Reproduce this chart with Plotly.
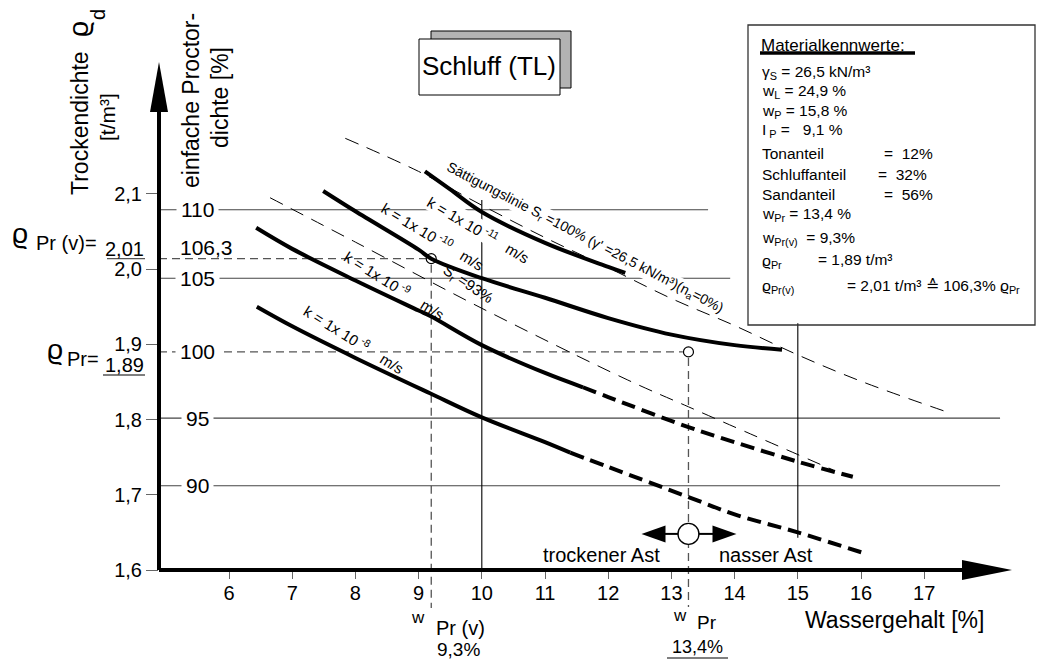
import plotly.graph_objects as go

# ---------------- data ----------------
x_tick_vals = [6, 7, 8, 9, 10, 11, 12, 13, 14, 15, 16, 17]
y_tick_vals = [1.6, 1.7, 1.8, 1.9, 2.0, 2.1]
y_tick_text = ["1,6", "1,7", "1,8", "1,9", "2,0", "2,1"]

proctor_text = ["110", "105", "100", "95", "90"]
proctor_rho = [2.079, 1.988, 1.890, 1.802, 1.712]

w_pr = 13.27        # drawn position of w_Pr (13,4 %)
w_prv = 9.2         # drawn position of w_Pr(v) (9,3 %)
rho_pr = 1.89
rho_prv = 2.014
grid_w = [10, 15]

sr100_w = [7.84, 9, 10, 11, 12, 13, 14, 15, 16, 17.33]
sr100_rho = [2.174, 2.130, 2.085, 2.042, 2.002, 1.961, 1.925, 1.886, 1.851, 1.811]
sr93_w = [6.65, 8, 10, 12.3, 13.27, 15.56]
sr93_rho = [2.095, 2.036, 1.948, 1.853, 1.817, 1.733]

k11_w = [9.10, 9.5, 10, 11, 12, 12.27]
k11_rho = [2.130, 2.106, 2.076, 2.035, 2.003, 1.995]
k10_w = [7.49, 8, 9, 9.2, 10, 11, 12, 13, 14, 14.75]
k10_rho = [2.104, 2.077, 2.026, 2.014, 1.988, 1.962, 1.935, 1.913, 1.899, 1.893]
k9_w_solid = [6.43, 7, 8, 9, 9.2, 10, 11, 11.6]
k9_rho_solid = [2.055, 2.027, 1.985, 1.945, 1.937, 1.899, 1.862, 1.843]
k9_w_dash = [11.6, 12, 13.27, 14, 15, 15.87]
k9_rho_dash = [1.843, 1.830, 1.790, 1.770, 1.744, 1.724]
k8_w_solid = [6.44, 7, 8, 9.18, 10, 11, 11.4]
k8_rho_solid = [1.950, 1.924, 1.882, 1.835, 1.803, 1.770, 1.756]
k8_w_dash = [11.4, 12, 13.27, 14, 15, 16.1]
k8_rho_dash = [1.756, 1.737, 1.697, 1.674, 1.650, 1.621]

big_circle_rho = 1.648

# ---------------- layout helpers ----------------
FONT = "Arial, Liberation Sans, sans-serif"
X_MIN, X_MAX = 4.8924, 18.389
Y_MIN, Y_MAX = 1.6, 2.2755
L, R, T, B = 159, 26, 62, 91
W, H = 1038, 661
PW, PH = W - L - R, H - T - B


def PX(px):
    return (px - L) / PW


def PY(py):
    return (H - B - py) / PH


def xd2p(x):
    return (x - X_MIN) / (X_MAX - X_MIN)


def yd2p(y):
    return (y - Y_MIN) / (Y_MAX - Y_MIN)


fig = go.Figure()

thick = dict(color="black", width=4)
thin_dash = dict(color="black", width=1, dash="14px,9px")
thick_dash = dict(color="black", width=4, dash="14px,7px")

fig.add_trace(go.Scatter(x=sr100_w, y=sr100_rho, mode="lines", line=thin_dash, line_shape="spline"))
fig.add_trace(go.Scatter(x=sr93_w, y=sr93_rho, mode="lines", line=thin_dash, line_shape="spline"))
fig.add_trace(go.Scatter(x=k11_w, y=k11_rho, mode="lines", line=thick, line_shape="spline"))
fig.add_trace(go.Scatter(x=k10_w, y=k10_rho, mode="lines", line=thick, line_shape="spline"))
fig.add_trace(go.Scatter(x=k9_w_solid, y=k9_rho_solid, mode="lines", line=thick, line_shape="spline"))
fig.add_trace(go.Scatter(x=k9_w_dash, y=k9_rho_dash, mode="lines", line=thick_dash, line_shape="spline"))
fig.add_trace(go.Scatter(x=k8_w_solid, y=k8_rho_solid, mode="lines", line=thick, line_shape="spline"))
fig.add_trace(go.Scatter(x=k8_w_dash, y=k8_rho_dash, mode="lines", line=thick_dash, line_shape="spline"))

# small marker circles
fig.add_trace(go.Scatter(x=[w_prv, w_pr], y=[rho_prv, rho_pr], mode="markers",
                         marker=dict(symbol="circle-open", size=10, color="black", line=dict(width=1.2))))
# big circle between the two branches
fig.add_trace(go.Scatter(x=[w_pr], y=[big_circle_rho], mode="markers",
                         marker=dict(symbol="circle", size=21, color="white", line=dict(width=1.3, color="black"))))

shapes = []
grid_col = "#444"
# Proctor level lines
line_end = [13.58, 13.93, None, 18.2, 18.2]
for i, r in enumerate(proctor_rho):
    if proctor_text[i] == "100":
        shapes.append(dict(type="line", xref="x", yref="y", x0=X_MIN, x1=w_pr - 0.09, y0=r, y1=r,
                           line=dict(color="#555", width=1.3, dash="8px,5px"), layer="below"))
    else:
        shapes.append(dict(type="line", xref="x", yref="y", x0=X_MIN, x1=line_end[i], y0=r, y1=r,
                           line=dict(color=grid_col, width=1.1), layer="below"))
# rho_Pr(v) dashed line and underline of 2,01
shapes.append(dict(type="line", xref="paper", yref="y", x0=0, x1=xd2p(w_prv) - 0.006, y0=rho_prv, y1=rho_prv,
                   line=dict(color="#555", width=1.3, dash="8px,5px"), layer="below"))
shapes.append(dict(type="line", xref="paper", yref="y", x0=PX(107), x1=PX(145), y0=rho_prv, y1=rho_prv,
                   line=dict(color="#555", width=1.3)))
# underline of 1,89
shapes.append(dict(type="line", xref="paper", yref="paper", x0=PX(103), x1=PX(145), y0=PY(375), y1=PY(375),
                   line=dict(color="#555", width=1.3)))
# underline of 13,4%
shapes.append(dict(type="line", xref="paper", yref="paper", x0=PX(667), x1=PX(728), y0=PY(658), y1=PY(658),
                   line=dict(color="#555", width=1.3)))
# vertical grid lines
shapes.append(dict(type="line", xref="x", yref="y", x0=grid_w[0], x1=grid_w[0], y0=2.092, y1=Y_MIN,
                   line=dict(color="black", width=1.1), layer="below"))
shapes.append(dict(type="line", xref="x", yref="y", x0=grid_w[1], x1=grid_w[1], y0=1.928, y1=1.643,
                   line=dict(color="black", width=1.1), layer="below"))
# dashed verticals for w_Pr(v) and w_Pr
shapes.append(dict(type="line", xref="x", yref="paper", x0=w_prv, x1=w_prv, y0=yd2p(rho_prv) - 0.012, y1=PY(608),
                   line=dict(color="#555", width=1.3, dash="8px,5px"), layer="below"))
shapes.append(dict(type="line", xref="x", yref="paper", x0=w_pr, x1=w_pr, y0=yd2p(rho_pr) - 0.012, y1=PY(607),
                   line=dict(color="#555", width=1.3, dash="8px,5px"), layer="below"))
# axes
shapes.append(dict(type="line", xref="x", yref="paper", x0=X_MIN, x1=X_MAX - 0.5, y0=0, y1=0,
                   line=dict(color="black", width=4)))
shapes.append(dict(type="line", xref="paper", yref="y", x0=0, x1=0, y0=Y_MIN, y1=Y_MAX - 0.05,
                   line=dict(color="black", width=4)))
shapes.append(dict(type="path", xref="x", yref="paper", xsizemode="pixel", ysizemode="pixel",
                   xanchor=X_MAX, yanchor=0, path="M 0 0 L -50 10 L -50 -10 Z",
                   fillcolor="black", line=dict(width=0)))
shapes.append(dict(type="path", xref="paper", yref="y", xsizemode="pixel", ysizemode="pixel",
                   xanchor=0, yanchor=Y_MAX, path="M 0 0 L -9 -50 L 9 -50 Z",
                   fillcolor="black", line=dict(width=0)))
# arrows at big circle
for p in ["M -10 0 L -24 0", "M 10 0 L 25 0"]:
    shapes.append(dict(type="path", xref="x", yref="y", xsizemode="pixel", ysizemode="pixel",
                       xanchor=w_pr, yanchor=big_circle_rho, path=p, line=dict(color="black", width=2)))
for p in ["M -47 0 L -23 8.5 L -23 -8.5 Z", "M 48 0 L 24 8.5 L 24 -8.5 Z"]:
    shapes.append(dict(type="path", xref="x", yref="y", xsizemode="pixel", ysizemode="pixel",
                       xanchor=w_pr, yanchor=big_circle_rho, path=p, fillcolor="black", line=dict(width=0)))
# Schluff (TL) box with shadow
shapes.append(dict(type="rect", xref="paper", yref="paper", x0=PX(431), x1=PX(571), y0=PY(88), y1=PY(31),
                   fillcolor="#b3b3b3", line=dict(color="black", width=1)))
shapes.append(dict(type="rect", xref="paper", yref="paper", x0=PX(419), x1=PX(560), y0=PY(95), y1=PY(39),
                   fillcolor="white", line=dict(color="black", width=1)))
# material box
shapes.append(dict(type="rect", xref="paper", yref="paper", x0=PX(748), x1=PX(1035), y0=PY(325), y1=PY(25),
                   fillcolor="rgba(0,0,0,0)", line=dict(color="#333", width=1.3)))
shapes.append(dict(type="line", xref="paper", yref="paper", x0=PX(760), x1=PX(915), y0=PY(53), y1=PY(53),
                   line=dict(color="black", width=3.5)))

annotations = []


def add_text(text, px, py, size=20, angle=0, xanchor="center", yanchor="middle", bg=None):
    annotations.append(dict(text=text, x=PX(px), y=PY(py), xref="paper", yref="paper", showarrow=False,
                            textangle=angle, xanchor=xanchor, yanchor=yanchor,
                            font=dict(size=size, family=FONT, color="black"),
                            bgcolor=bg if bg else "rgba(0,0,0,0)", borderpad=0))


# Proctor labels on the level lines
for t, r in zip(proctor_text, proctor_rho):
    annotations.append(dict(text=t, x=PX(197), y=r, xref="paper", yref="y", showarrow=False,
                            xanchor="center", yanchor="middle", font=dict(size=21, family=FONT, color="black"),
                            bgcolor="white", borderpad=4))
annotations.append(dict(text="106,3", x=PX(206), y=rho_prv, yshift=11, xref="paper", yref="y", showarrow=False,
                        xanchor="center", yanchor="middle", font=dict(size=21, family=FONT, color="black")))

# left labels
add_text("Trockendichte", 80, 123, size=23, angle=-90)
add_text("ϱ", 79, 29, size=28, angle=-90)
add_text("d", 98, 15, size=20, angle=-90)
add_text("[t/m³]", 107, 117, size=21, angle=-90)
add_text("einfache Proctor-", 191, 101, size=23, angle=-90)
add_text("dichte [%]", 220, 98, size=23, angle=-90)
add_text("ϱ", 20, 234, size=28)
add_text("Pr (v)=", 66, 243, size=20)
add_text("2,01", 124, 249, size=20)
add_text("ϱ", 55, 349, size=28)
add_text("Pr=", 83, 359, size=20)
add_text("1,89", 124, 365, size=20)

# below x axis
add_text("Wassergehalt [%]", 894, 620, size=23)
add_text("w", 418, 617, size=17)
add_text("Pr (v)", 460, 628, size=20)
add_text("9,3%", 458, 649, size=19)
add_text("w", 680, 615, size=17)
add_text("Pr", 707, 622, size=19)
add_text("13,4%", 697, 647, size=18)

# branch labels
add_text("trockener Ast", 601, 555, size=20, bg="white")
add_text("nasser Ast", 766, 555, size=20, bg="white")

# curve labels
add_text("Sättigungslinie S<sub>r</sub> =100% (γ' =26,5 kN/m³)(n<sub>a</sub>=0%)", 585, 238, size=14,
         angle=27.5, bg="white")
add_text("k = 1x 10<sup> -11</sup>   m/s", 478, 229, size=15, angle=30.5, bg="white")
add_text("k = 1x 10<sup> -10</sup>   m/s", 433, 236, size=15, angle=31)
add_text("S<sub>r</sub> =93%", 468, 284, size=15, angle=33.5)
add_text("k = 1x 10<sup> -9</sup>    m/s", 395, 284, size=15, angle=32)
add_text("k = 1x 10<sup> -8</sup>    m/s", 354, 339, size=15, angle=32)

# Schluff box
add_text("Schluff (TL)", 489, 66, size=26)

# material box text
BS = 15.5
add_text("Materialkennwerte:", 760, 45, size=17, xanchor="left")
box_rows = [
    ("γ<sub>S</sub> = 26,5 kN/m³", 761, 73),
    ("w<sub>L</sub> = 24,9 %", 761, 91),
    ("w<sub>P</sub> = 15,8 %", 761, 111),
    ("I<sub> P</sub> =   9,1 %", 761, 130),
    ("Tonanteil", 761, 153),
    ("=  12%", 883, 153),
    ("Schluffanteil", 761, 174),
    ("=  32%", 877, 174),
    ("Sandanteil", 761, 194),
    ("=  56%", 883, 194),
    ("w<sub>Pr</sub> = 13,4 %", 761, 214),
    ("w<sub>Pr(v)</sub>  = 9,3%", 761, 238),
    ("ϱ<sub>Pr</sub>", 761, 261),
    ("= 1,89 t/m³", 817, 259),
    ("ϱ<sub>Pr(v)</sub>", 761, 286),
]
for t, px, py in box_rows:
    add_text(t, px, py, size=BS, xanchor="left")
add_text("= 2,01 t/m³ ≙ 106,3% ϱ<sub>Pr</sub>", 846, 286, size=15.5, xanchor="left")

fig.update_layout(
    width=W, height=H,
    margin=dict(l=L, r=R, t=T, b=B, pad=0),
    paper_bgcolor="white", plot_bgcolor="white",
    showlegend=False,
    shapes=shapes,
    annotations=annotations,
    font=dict(family=FONT, color="black"),
    xaxis=dict(range=[X_MIN, X_MAX], showgrid=False, zeroline=False, showline=False,
               ticks="outside", ticklen=8, tickwidth=1, tickcolor="#666",
               tickvals=x_tick_vals, ticktext=[str(v) for v in x_tick_vals],
               ticklabelstandoff=-3,
               tickfont=dict(size=20, family=FONT, color="black")),
    yaxis=dict(range=[Y_MIN, Y_MAX], showgrid=False, zeroline=False, showline=False,
               ticks="outside", ticklen=12, tickwidth=1, tickcolor="#666",
               tickvals=y_tick_vals, ticktext=y_tick_text,
               tickfont=dict(size=20, family=FONT, color="black")),
)

fig.write_html("out.html")
